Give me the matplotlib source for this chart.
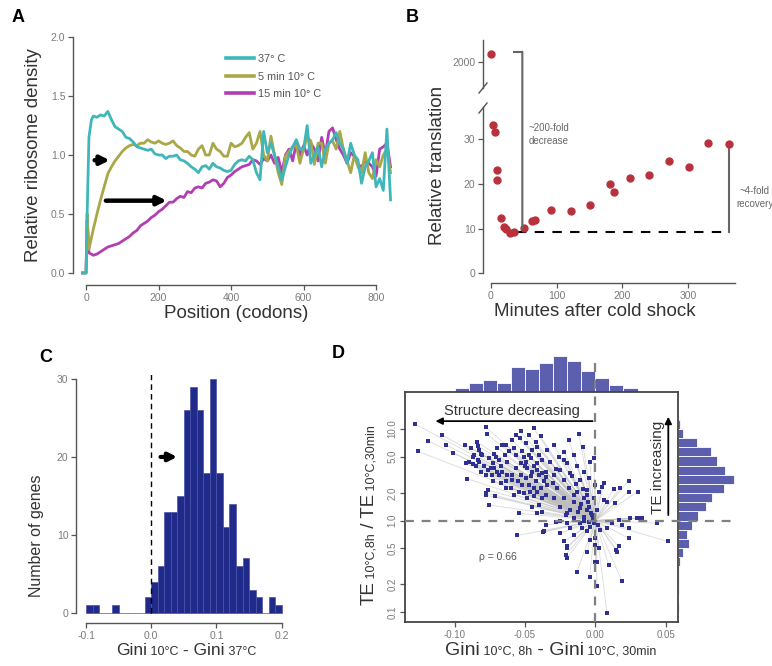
import matplotlib
matplotlib.use('Agg')
import matplotlib.pyplot as plt
import numpy as np
from matplotlib.patches import ConnectionPatch
from matplotlib.collections import LineCollection
from matplotlib.lines import Line2D

plt.rcParams['font.family'] = ['Liberation Sans', 'DejaVu Sans']

# ---------------- DATA ----------------
# Panel A: ribosome density profiles
codon_pos = [-10, 0, 3, 8, 15, 20,
             30, 40, 50, 60, 70, 80, 90, 100, 110, 120,
             130, 140, 150, 160, 170, 180, 190, 200, 210, 220,
             230, 240, 250, 260, 270, 280, 290, 300, 310, 320,
             330, 340, 350, 360, 370, 380, 390, 400, 410, 420,
             430, 440, 450, 460, 470, 480, 490, 500, 510, 520,
             530, 540, 550, 560, 570, 580, 590, 600, 610, 620,
             630, 640, 650, 660, 670, 680, 690, 700, 710, 720,
             730, 740, 750, 760, 770, 780, 790, 800, 810, 820,
             830, 840]
density_37C = [0, 0, 0.5, 1.15, 1.3, 1.33,
               1.32, 1.34, 1.33, 1.37, 1.3, 1.24, 1.22, 1.2, 1.15, 1.14,
               1.11, 1.07, 1.06, 1.05, 1.04, 1.05, 1.01, 1.0, 1.0, 0.97,
               0.99, 0.99, 1.0, 0.96, 0.95, 0.93, 0.9, 0.88, 0.85, 0.9,
               0.91, 0.88, 0.93, 0.9, 0.89, 0.87, 0.86, 0.87, 0.92, 0.95,
               0.96, 0.95, 0.99, 0.96, 0.85, 0.79, 1.2, 1.02, 1.1, 1.0,
               0.9, 0.79, 0.9, 1.0, 1.07, 1.13, 1.05, 1.05, 1.25, 0.93,
               1.0, 1.07, 0.9, 1.05, 1.1, 1.13, 1.19, 1.1, 1.05, 0.93,
               1.1, 1.0, 0.96, 0.76, 0.9, 0.95, 1.02, 0.73, 0.8, 0.7,
               1.22, 0.62]
density_5min = [0, 0, 0.5, 0.2, 0.3, 0.37,
                0.5, 0.62, 0.73, 0.84, 0.9, 0.95, 0.99, 1.03, 1.06, 1.08,
                1.09, 1.08, 1.1, 1.1, 1.13, 1.11, 1.1, 1.12, 1.1, 1.09,
                1.1, 1.12, 1.08, 1.06, 1.03, 1.03, 1.0, 0.99, 1.05, 1.08,
                1.0, 1.0, 1.1, 1.05, 1.03, 0.99, 0.99, 1.1, 1.07, 1.08,
                1.1, 1.15, 1.19, 1.05, 1.1, 1.2, 1.0, 0.95, 1.16, 1.0,
                0.85, 0.75, 0.99, 1.03, 1.07, 1.08, 0.93, 1.05, 1.15, 1.12,
                0.92, 1.1, 1.1, 0.93, 1.1, 1.12, 1.05, 1.2, 1.05, 0.95,
                0.85, 1.0, 0.9, 0.85, 1.02, 0.85, 0.8, 0.96, 0.9, 1.0,
                1.05, 0.85]
density_15min = [0, 0, 0.45, 0.17, 0.16, 0.15,
                 0.16, 0.18, 0.2, 0.22, 0.23, 0.24, 0.25, 0.27, 0.29, 0.31,
                 0.34, 0.36, 0.4, 0.42, 0.44, 0.47, 0.49, 0.52, 0.54, 0.57,
                 0.6, 0.6, 0.63, 0.65, 0.64, 0.69, 0.68, 0.72, 0.73, 0.72,
                 0.76, 0.77, 0.79, 0.78, 0.73, 0.76, 0.81, 0.83, 0.86, 0.88,
                 0.9, 0.91, 0.92, 0.96, 0.95, 0.92, 0.97, 0.95, 1.0, 0.93,
                 0.98, 0.85, 1.0, 1.05, 0.95, 1.1, 1.0, 1.08, 1.0, 1.1,
                 1.05, 0.95, 1.15, 1.0, 1.2, 1.23, 1.13, 1.05, 1.0, 0.93,
                 1.02, 0.99, 0.92, 0.9, 0.95, 0.93, 0.9, 0.82, 1.05, 1.07,
                 1.1, 0.9]
series_labels = ["37° C", "5 min 10° C", "15 min 10° C"]

# Panel B: relative translation after cold shock
minutes = [0, 3, 6, 10, 10, 16, 20, 23, 30, 36, 50, 63, 67, 91, 122, 151,
           181, 188, 211, 241, 271, 301, 331, 362]
rel_translation = [2180, 33.2, 31.5, 23.0, 20.8, 12.4, 10.3, 9.8, 9.1, 9.3,
                   10.1, 11.7, 11.9, 14.2, 14.0, 15.3, 19.9, 18.1, 21.2, 22.0,
                   25.0, 23.8, 29.2, 28.9]

# Panel C: histogram of Gini differences (bin left edges, width 0.01)
gini_bin_left = [-0.10, -0.09, -0.08, -0.07, -0.06, -0.05, -0.04, -0.03, -0.02, -0.01,
                 0.00, 0.01, 0.02, 0.03, 0.04, 0.05, 0.06, 0.07, 0.08, 0.09,
                 0.10, 0.11, 0.12, 0.13, 0.14, 0.15, 0.16, 0.17, 0.18, 0.19]
gene_counts = [1, 1, 0, 0, 1, 0, 0, 0, 0, 2,
               4, 6, 13, 13, 15, 26, 29, 26, 18, 30,
               18, 11, 14, 6, 7, 3, 2, 0, 2, 1]

# Panel D: scatter of Gini shift vs TE ratio
gini_shift_a = [-0.128, -0.109, -0.119, -0.126, -0.106, -0.1015, -0.091, -0.0925, -0.0885, -0.0845,
                -0.0838, -0.0826, -0.0814, -0.0862, -0.0803, -0.0897, -0.0873, -0.0779, -0.0772, -0.0755,
                -0.072, -0.0708, -0.0727, -0.0685, -0.0661, -0.0673, -0.0637, -0.0644, -0.0626, -0.0595,
                -0.0578, -0.0562, -0.0531, -0.0538, -0.0519, -0.0508, -0.0496, -0.0472, -0.046, -0.0449,
                -0.0437, -0.0425, -0.0401, -0.0413, -0.0378, -0.0767, -0.0779, -0.0713, -0.0755, -0.0578,
                -0.0637, -0.0543, -0.0595, -0.0661, -0.0626, -0.0567, -0.0531, -0.0496, -0.0449, -0.0472,
                -0.0425, -0.0401, -0.039, -0.0437, -0.0401, -0.0449, -0.0543, -0.0413, -0.0378, -0.0555,
                -0.0373, -0.0732, -0.0696, -0.0744, -0.0791, -0.0826, -0.085, -0.0637, -0.0673, -0.0602,
                -0.0519, -0.0508, -0.0484, -0.0467, -0.0437, -0.0413, -0.0378, -0.0366, -0.0779, -0.0727,
                -0.0685, -0.059, -0.0548, -0.0484, -0.046, -0.0413, -0.0378, -0.0531, -0.05, -0.0437,
                -0.0496, -0.0413, -0.039, -0.0472, -0.0567, -0.0614, -0.0696, -0.072, -0.0767, -0.0814,
                -0.0838, -0.0873, -0.0921]
te_ratio_a = [11.3, 8.6, 7.4, 5.7, 6.7, 5.5, 2.85, 6.7, 6.2, 7.3,
              6.6, 5.9, 5.4, 5.2, 5.2, 4.4, 4.1, 10.4, 8.8, 4.8,
              5.4, 5.0, 4.2, 4.6, 6.7, 3.9, 6.7, 5.2, 4.4, 7.6,
              6.2, 5.2, 9.4, 7.9, 5.7, 5.0, 4.4, 5.2, 4.8, 5.9,
              10.2, 7.3, 5.2, 4.2, 4.6, 2.16, 1.9, 1.83, 1.48, 1.9,
              2.26, 2.07, 2.78, 3.43, 3.16, 3.73, 3.16, 2.9, 3.43, 2.45,
              2.67, 3.16, 2.26, 1.83, 1.48, 1.42, 1.2, 1.2, 1.25, 0.686,
              0.745, 3.16, 3.43, 3.73, 3.9, 4.4, 3.9, 2.67, 2.56, 2.26,
              2.45, 1.99, 1.75, 2.07, 2.26, 2.07, 1.75, 2.67, 3.16, 2.67,
              3.16, 3.16, 2.67, 3.73, 3.03, 3.58, 3.29, 4.24, 3.9, 3.9,
              7.0, 6.4, 8.3, 8.6, 8.6, 5.7, 6.2, 3.73, 3.58, 3.43,
              4.6, 5.0, 4.24]
gini_shift_b = [-0.0118, -0.0189, -0.0087, -0.004, -0.022, -0.0153, -0.0295, -0.0342, -0.026, -0.0319,
                -0.0201, -0.013, -0.0083, -0.0248, -0.0354, -0.0295, -0.0165, -0.0106, -0.0047, -0.0224,
                -0.0342, -0.0271, -0.0189, -0.013, -0.0059, 0.0, 0.0047, 0.0024, 0.0059, -0.0012,
                -0.0083, -0.0153, -0.0224, -0.0295, -0.0354, -0.0248, -0.0177, -0.0106, -0.0047, 0.0012,
                -0.0024, -0.0083, -0.0153, -0.0212, -0.0354, -0.0283, -0.0201, -0.0106, -0.0047, -0.0012,
                -0.0094, -0.0177, -0.0366, -0.0248, -0.0153, -0.0059, 0.0, 0.0035, -0.0224, -0.0035,
                -0.0201, -0.0212, -0.0201, -0.013, -0.0059, 0.0, 0.0024, 0.0012, 0.0012, -0.004,
                0.0094, 0.0189, 0.0083, 0.0165, 0.0153, 0.0083, 0.0118, 0.0165, 0.0189, 0.0236,
                0.0248, 0.0295, 0.033, 0.0236, 0.0142, 0.0083, 0.013, 0.0177, 0.0236, 0.0236,
                0.03, 0.0437, 0.0519, 0.0059, -0.0012,
                0.0, 0.015, 0.0323, -0.02, -0.078, -0.003, -0.006, -0.002, -0.008, 0.002,
                -0.004, -0.012, -0.01, -0.005, -0.015, -0.02, -0.025, -0.03, -0.035, -0.028,
                -0.022, -0.018, -0.014, -0.009, -0.006]
te_ratio_b = [8.8, 7.6, 6.4, 4.4, 5.6, 5.2, 6.7, 5.9, 5.0, 4.4,
              4.24, 3.9, 3.43, 3.58, 3.43, 3.16, 3.03, 2.78, 2.9, 2.78,
              2.45, 2.26, 2.26, 2.07, 2.16, 2.45, 2.35, 2.07, 1.68, 1.75,
              1.75, 1.61, 1.75, 1.75, 1.91, 1.42, 1.31, 1.36, 1.42, 1.31,
              1.15, 1.1, 1.06, 1.15, 0.90, 0.975, 0.935, 0.935, 0.975, 0.935,
              0.824, 0.824, 0.76, 0.727, 0.697, 0.76, 0.641, 0.79, 0.59, 0.615,
              0.499, 0.42, 0.388, 0.277, 0.458, 0.542, 0.499, 0.356, 0.19, 0.244,
              0.327, 0.219, 0.097, 0.52, 0.458, 0.824, 0.935, 1.02, 0.90, 0.824,
              1.06, 1.06, 1.06, 0.641, 1.55, 1.61, 2.22, 2.26, 2.71, 2.07,
              2.07, 0.935, 0.59, 2.56, 4.8,
              0.35, 0.48, 1.07, 0.52, 2.0, 1.2, 1.3, 1.05, 1.0, 0.9,
              0.85, 1.25, 1.5, 1.6, 1.9, 1.2, 1.0, 2.6, 3.0, 3.7,
              4.6, 3.3, 2.5, 2.2, 1.9]

# Panel D marginal histograms
top_bin_left = [-0.13, -0.12, -0.11, -0.10, -0.09, -0.08, -0.07, -0.06,
                -0.05, -0.04, -0.03, -0.02, -0.01, 0.00, 0.01, 0.02]
top_counts = [1, 0, 1, 6, 13, 17, 13, 35, 32, 41, 51, 43, 30, 20, 10, 5]
right_bin_log_low = [-1.0, -0.9, -0.8, -0.7, -0.6, -0.5, -0.4, -0.3, -0.2, -0.1,
                     0.0, 0.1, 0.2, 0.3, 0.4, 0.5, 0.6, 0.7, 0.8, 0.9, 1.0]
right_counts = [1, 0, 1, 1, 1, 2, 4, 10, 8, 12,
                18, 25, 30, 41, 50, 42, 35, 29, 17, 4, 2]

# ---------------- FIGURE ----------------
W, H = 772, 666
fig = plt.figure(figsize=(W / 100, H / 100), dpi=100)
fig.patch.set_facecolor('white')

def rect(l, t, r, b):
    return [l / W, 1 - b / H, (r - l) / W, (b - t) / H]

def fx(px):
    return px / W

def fy(py):
    return 1 - py / H

LABEL_C = '#333333'
TICK_C = '#7a7a7a'
SPINE_C = '#555555'

def style_axes(ax, size=7.5):
    ax.tick_params(direction='out', length=3.5, width=0.9, colors=SPINE_C,
                   labelcolor=TICK_C, labelsize=size, pad=2)
    for s in ax.spines.values():
        s.set_color(SPINE_C)
        s.set_linewidth(1.0)

def mixed_text(x_px, y_px, parts, rotation=0, color=LABEL_C):
    renderer = fig.canvas.get_renderer()
    widths = []
    for s, size in parts:
        t = fig.text(0, 0, s, fontsize=size)
        widths.append(t.get_window_extent(renderer).width)
        t.remove()
    total = sum(widths)
    if rotation == 0:
        x = x_px - total / 2
        for (s, size), w in zip(parts, widths):
            fig.text(fx(x), fy(y_px), s, fontsize=size, color=color,
                     ha='left', va='baseline')
            x += w
    else:
        y = y_px + total / 2
        for (s, size), w in zip(parts, widths):
            fig.text(fx(x_px), fy(y), s, fontsize=size, color=color, rotation=90,
                     rotation_mode='anchor', ha='left', va='baseline')
            y -= w

# ---------------- Panel A ----------------
axA = fig.add_axes(rect(73, 30, 392, 285))
axA.set_xlim(-36, 844)
axA.set_ylim(-0.102, 2.06)
axA.spines['top'].set_visible(False)
axA.spines['right'].set_visible(False)
axA.spines['left'].set_bounds(0, 2)
axA.spines['bottom'].set_bounds(0, 800)
style_axes(axA)
axA.set_yticks([0, 0.5, 1.0, 1.5, 2.0])
axA.set_yticklabels(['0.0', '0.5', '1.0', '1.5', '2.0'])
axA.set_xticks([0, 200, 400, 600, 800])
colA = ['#3fb7b9', '#a9a848', '#b13fb3']
lm, = axA.plot(codon_pos, density_15min, color=colA[2], lw=2.0, solid_joinstyle='round')
lo, = axA.plot(codon_pos, density_5min, color=colA[1], lw=2.0, solid_joinstyle='round')
lc, = axA.plot(codon_pos, density_37C, color=colA[0], lw=2.0, solid_joinstyle='round')
handles = [Line2D([], [], color=c, lw=2.6) for c in colA]
axA.legend(handles, series_labels, loc='upper left', bbox_to_anchor=(fx(226), fy(54)),
           bbox_transform=fig.transFigure, frameon=False, fontsize=7.8,
           handlelength=2.6, handletextpad=0.4, labelspacing=0.7,
           borderpad=0, borderaxespad=0, labelcolor='#555555')
axA.annotate('', xy=(73, 0.956), xytext=(16, 0.956),
             arrowprops=dict(arrowstyle='-|>', color='black', lw=3.2, mutation_scale=13))
axA.annotate('', xy=(230, 0.613), xytext=(47, 0.613),
             arrowprops=dict(arrowstyle='-|>', color='black', lw=3.2, mutation_scale=13))
fig.text(fx(34), fy(155), 'Relative ribosome density', rotation=90, ha='center',
         va='center', fontsize=13.5, color=LABEL_C)
fig.text(fx(236), fy(313), 'Position (codons)', ha='center', va='center',
         fontsize=13.5, color=LABEL_C)
fig.text(fx(12), fy(18), 'A', fontsize=13, fontweight='bold', ha='left', va='center')

# ---------------- Panel B ----------------
xlB = (-11.8, 378.9)
axB = fig.add_axes(rect(483, 107, 740, 283))
axB.set_xlim(*xlB)
axB.set_ylim(-2.2, 37.2)
axB.spines['top'].set_visible(False)
axB.spines['right'].set_visible(False)
axB.spines['left'].set_bounds(0, 37.2)
axB.spines['bottom'].set_bounds(0, 372)
style_axes(axB)
axB.set_yticks([0, 10, 20, 30])
axB.set_xticks([0, 100, 200, 300])
axB.patch.set_alpha(0)

axBt = fig.add_axes(rect(483, 40, 740, 88))
axBt.set_xlim(*xlB)
axBt.set_ylim(1400, 2500)
for s in ['top', 'right', 'bottom']:
    axBt.spines[s].set_visible(False)
style_axes(axBt)
axBt.set_yticks([2000])
axBt.set_xticks([])
axBt.patch.set_alpha(0)

mins = np.array(minutes, dtype=float)
vals = np.array(rel_translation, dtype=float)
hi = vals > 100
red = '#b8323d'
axB.plot(mins[~hi], vals[~hi], 'o', color=red, ms=5.0, mec=red, clip_on=False, zorder=5)
axBt.plot(mins[hi], vals[hi], 'o', color=red, ms=5.0, mec=red, clip_on=False, zorder=5)

grey = '#666666'
axBt.plot([36, 48], [2231, 2231], color=grey, lw=1.5, clip_on=False)
con = ConnectionPatch(xyA=(48, 2231), coordsA=axBt.transData,
                      xyB=(48, 9.8), coordsB=axB.transData, color=grey, lw=1.5)
fig.add_artist(con)
axB.plot([40, 362], [9.3, 9.3], color='black', lw=1.5, dashes=(4.5, 4), zorder=3)
axB.plot([362, 362], [9.3, 28.9], color=grey, lw=1.5, zorder=3)
axB.text(58, 33.6, '~200-fold\ndecrease', fontsize=7, color='#666666', ha='left',
         va='top', linespacing=1.4)
axB.text(401, 19.6, '~4-fold\nrecovery', fontsize=7, color='#666666', ha='center',
         va='top', linespacing=1.4, clip_on=False)
# axis break marks
for yb in (88, 108):
    fig.add_artist(Line2D([fx(479), fx(487)], [fy(yb + 5), fy(yb - 5)],
                          color=SPINE_C, lw=1.0))
fig.text(fx(437), fy(165), 'Relative translation', rotation=90, ha='center',
         va='center', fontsize=13.5, color=LABEL_C)
fig.text(fx(595), fy(312), 'Minutes after cold shock', ha='center', va='center',
         fontsize=13.5, color=LABEL_C)
fig.text(fx(406), fy(17), 'B', fontsize=13, fontweight='bold', ha='left', va='center')

# ---------------- Panel C ----------------
axC = fig.add_axes(rect(76, 375, 290, 623))
axC.set_xlim(-0.1154, 0.2128)
axC.set_ylim(-1.28, 30.5)
axC.spines['top'].set_visible(False)
axC.spines['right'].set_visible(False)
axC.spines['left'].set_bounds(0, 30)
axC.spines['bottom'].set_bounds(-0.1, 0.2)
style_axes(axC)
axC.set_yticks([0, 10, 20, 30])
axC.set_xticks([-0.1, 0.0, 0.1, 0.2])
axC.set_xticklabels(['-0.1', '0.0', '0.1', '0.2'])
axC.bar(gini_bin_left, gene_counts, width=0.01, align='edge', color='#1f2a8a',
        edgecolor='#4b53a6', linewidth=0.5, zorder=2)
axC.plot([0, 0], [0, 31], color='black', lw=1.0, dashes=(4, 3), zorder=3)
axC.annotate('', xy=(0.044, 20), xytext=(0.01, 20),
             arrowprops=dict(arrowstyle='-|>', color='black', lw=3.0, mutation_scale=12))
fig.text(fx(36), fy(536), 'Number of genes', rotation=90, ha='center', va='center',
         fontsize=11.5, color=LABEL_C)
mixed_text(186, 655, [('Gini', 12.5), (' 10°C', 9), (' - Gini', 12.5), (' 37°C', 9)])
fig.text(fx(39), fy(357), 'C', fontsize=13, fontweight='bold', ha='left', va='center')

# ---------------- Panel D ----------------
xlD = (-0.1354, 0.0588)
ylD = (0.0777, 25.4)
hist_col = '#5b5fad'

axTop = fig.add_axes(rect(405, 355, 678, 392))
axTop.set_xlim(*xlD)
axTop.set_ylim(0, 52)
axTop.bar(top_bin_left, top_counts, width=0.01, align='edge', color=hist_col,
          edgecolor='white', linewidth=0.6)
axTop.axis('off')

axRt = fig.add_axes(rect(678, 392, 740, 622))
axRt.set_yscale('log')
axRt.set_ylim(*ylD)
axRt.set_xlim(0, 55)
lows = np.power(10.0, np.array(right_bin_log_low))
highs = np.power(10.0, np.array(right_bin_log_low) + 0.1)
axRt.barh(lows, right_counts, height=highs - lows, align='edge', color=hist_col,
          edgecolor='white', linewidth=0.6)
axRt.axis('off')

axD = fig.add_axes(rect(405, 392, 678, 622))
axD.set_xlim(*xlD)
axD.set_yscale('log')
axD.set_ylim(*ylD)
axD.patch.set_alpha(0)
style_axes(axD, size=7)
for s in axD.spines.values():
    s.set_color('#444444')
    s.set_linewidth(1.3)
axD.set_xticks([-0.10, -0.05, 0.0, 0.05])
axD.set_xticklabels(['-0.10', '-0.05', '0.00', '0.05'])
axD.set_yticks([0.1, 0.2, 0.5, 1.0, 2.0, 5.0, 10.0])
axD.set_yticklabels(['0.1', '0.2', '0.5', '1.0', '2.0', '5.0', '10.0'], rotation=90,
                    va='center')
axD.minorticks_off()

gx = np.array(gini_shift_a + gini_shift_b)
ty = np.array(te_ratio_a + te_ratio_b)
segs = [[(0.0, 1.0), (a, b)] for a, b in zip(gx, ty)]
axD.add_collection(LineCollection(segs, colors='#bdbdbd', linewidths=0.6, alpha=0.55, zorder=1))
axD.scatter(gx, ty, s=10, marker='s', color='#2e3192', linewidths=0, zorder=3)

axD.plot([xlD[0], 0.1006], [1, 1], color='#808080', lw=1.6, dashes=(4, 3.5),
         clip_on=False, zorder=4)
axD.plot([0, 0], [ylD[0], 62], color='#808080', lw=1.6, dashes=(4, 3.5),
         clip_on=False, zorder=4)
axD.annotate('', xy=(-0.1157, 12.2), xytext=(0.0, 12.2),
             arrowprops=dict(arrowstyle='-|>', color='black', lw=1.3, mutation_scale=10))
axD.text(-0.059, 15.6, 'Structure decreasing', ha='center', va='center',
         fontsize=10.5, color=LABEL_C)
axD.annotate('', xy=(0.0519, 14.6), xytext=(0.0519, 1.07),
             arrowprops=dict(arrowstyle='-|>', color='black', lw=1.3, mutation_scale=10))
axD.text(0.0446, 3.8, 'TE increasing', rotation=90, ha='center', va='center',
         fontsize=11, color=LABEL_C)
axD.text(-0.0696, 0.40, 'ρ = 0.66', ha='center', va='center', fontsize=7.5,
         color='#555555')

mixed_text(374, 515, [('TE', 13.5), (' 10°C,8h', 9), (' / TE', 13.5), (' 10°C,30min', 9)],
           rotation=90)
mixed_text(551, 655, [('Gini', 14), (' 10°C, 8h', 9), (' - Gini', 14), (' 10°C, 30min', 9)])
fig.text(fx(332), fy(354), 'D', fontsize=13, fontweight='bold', ha='left', va='center')

fig.savefig('out.png', dpi=100)
